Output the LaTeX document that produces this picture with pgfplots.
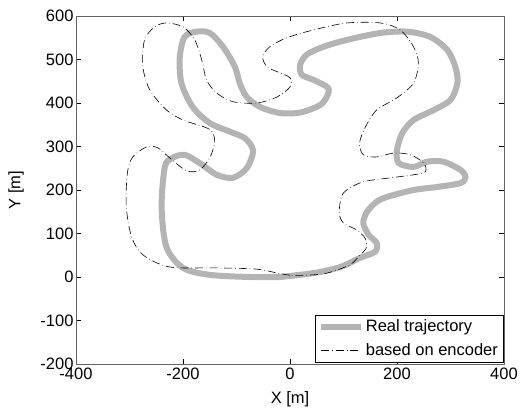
\documentclass[border=0pt]{standalone}
\usepackage{fontspec}
\setmainfont{Liberation Sans}
\usepackage{pgfplots}
\pgfplotsset{compat=1.18}
\definecolor{realgray}{RGB}{180,180,180}
\definecolor{axgray}{RGB}{100,100,100}
\begin{document}
\begin{tikzpicture}
\begin{axis}[
  scale only axis,
  width=428pt, height=348pt,
  xmin=-400, xmax=400, ymin=-200, ymax=600,
  xtick={-400,-200,0,200,400},
  ytick={-200,-100,0,100,200,300,400,500,600},
  tick align=inside,
  major tick length=5pt,
  axis line style={axgray},
  tick style={black},
  font=\fontsize{16.5}{19}\selectfont,
  /pgf/number format/assume math mode=true,
  xticklabel style={yshift=0pt},
  yticklabel style={xshift=1pt},
  xlabel={X [m]}, ylabel={Y [m]},
  xlabel style={at={(axis description cs:0.5,0)}, anchor=center, yshift=-35pt},
  ylabel style={at={(axis description cs:-0.14,0.5)}, anchor=center},
  legend cell align=left,
  legend style={draw=black, font=\fontsize{16.5}{19}\selectfont,
    inner xsep=3pt, inner ysep=3pt, row sep=6pt,
    at={(0.998,0.006)}, anchor=south east},
  legend image code/.code={\draw[#1] (0cm,0cm) -- (1.4cm,0cm);},
  after end axis/.code={\path (rel axis cs:1,0) ++(23pt,-45pt);
    \path (rel axis cs:0,1) ++(-76pt,16pt);},
]
\addplot[realgray, line width=6pt, smooth, tension=0.5] coordinates {
(-19,0) (-75,0) (-150,5) (-200,21) (-231,69) (-240,161) (-234,253) (-221,273)
(-197,281) (-169,262) (-137,235) (-107,228) (-81,250) (-69,290) (-83,318)
(-110,333) (-150,354) (-182,391) (-203,446) (-206,506) (-197,552) (-175,564)
(-150,561) (-125,529) (-103,483) (-94,446) (-81,414) (-56,391) (-19,377)
(19,378) (56,395) (69,415) (71,435) (44,453) (22,465) (19,488) (31,511)
(62,529) (106,545) (169,561) (219,564) (262,552) (294,522) (309,483)
(313,446) (300,407) (269,384) (231,361) (210,331) (200,292) (203,262)
(231,253) (256,265) (287,265) (319,246) (328,230) (319,216) (275,207)
(231,200) (181,184) (162,173) (144,150) (137,124) (147,97) (162,78)
(159,58) (131,44) (94,23) (44,9) (-19,0)
};
\addlegendentry{Real trajectory}
\addplot[black, line width=0.6pt, smooth, tension=0.5,
  dash pattern=on 8pt off 3pt on 0.6pt off 3pt] coordinates {
(0,4) (-20,8) (-62,18) (-137,21) (-225,23) (-275,51) (-296,92) (-306,161)
(-304,239) (-294,276) (-268,299) (-247,297) (-225,274) (-193,244) (-169,246)
(-150,274) (-141,308) (-144,331) (-156,343) (-200,361) (-231,384) (-262,430)
(-275,483) (-272,545) (-253,575) (-231,584) (-200,575) (-178,545) (-165,499)
(-156,453) (-137,423) (-107,403) (-62,400) (-24,414) (0,437) (0,458)
(-24,472) (-43,483) (-51,506) (-38,529) (-6,550) (44,568) (106,584)
(169,584) (206,568) (231,529) (240,492) (231,446) (200,412) (162,384)
(141,345) (130,308) (137,281) (162,276) (194,285) (225,281) (250,262)
(253,242) (231,235) (188,228) (137,219) (106,200) (96,184) (92,147)
(100,124) (125,108) (141,88) (142,65) (131,51) (112,28) (69,9) (30,4) (0,4)
};
\addlegendentry{based on encoder}
\end{axis}
\end{tikzpicture}
\end{document}
